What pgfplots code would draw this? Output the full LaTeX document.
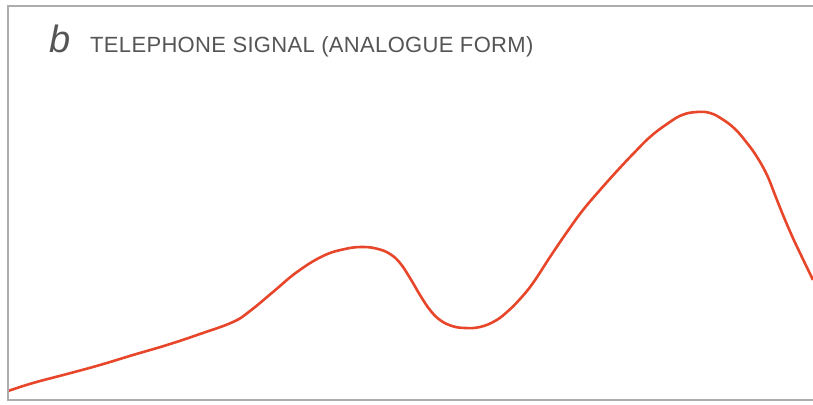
\documentclass[border=0pt]{standalone}
\usepackage{pgfplots}
\pgfplotsset{compat=1.18}
\usepackage{fontspec}
\setmainfont{Liberation Sans}
\definecolor{sig}{HTML}{E8462A}
\definecolor{frame}{HTML}{ADADAD}
\definecolor{ttl}{HTML}{555555}
\begin{document}
\begin{tikzpicture}[x=1pt,y=1pt]
\useasboundingbox (0,0) rectangle (813,404);
\begin{axis}[
  at={(8pt,4pt)}, anchor=south west,
  scale only axis, width=805pt, height=394pt,
  xmin=8, xmax=813, ymin=4, ymax=398,
  hide axis, clip=true,
]
\addplot[sig, line width=2.6pt, smooth, tension=0.7] coordinates {
(8,13) (33,21) (67,30) (100,39) (133,49) (167,59) (200,70) (233,82)
(250,93) (273,112) (297,132) (323,148) (345,155) (363,157) (378,155)
(390,150) (400,141) (410,126) (420,109) (430,94) (440,84) (452,78)
(465,76) (480,77) (495,83) (507,92) (520,105) (533,121) (550,147)
(567,172) (583,194) (600,214) (617,233) (633,250) (650,267) (667,280)
(682,289) (697,292) (710,291) (722,285) (735,275) (747,261) (757,247)
(767,229) (775,209) (783,189) (792,168) (800,151) (813,124)
};
\end{axis}
\draw[frame, line width=1.2pt] (813,398) -- (8,398) -- (8,4) -- (813,4);
\node[anchor=base west, inner sep=0, text=ttl, font=\fontsize{38}{40}\selectfont\itshape] at (49,351) {b};
\node[anchor=base west, inner sep=0, text=ttl, font=\fontsize{22}{24}\selectfont\addfontfeatures{LetterSpace=1.5}] at (90,351) {TELEPHONE SIGNAL (ANALOGUE FORM)};
\end{tikzpicture}
\end{document}
